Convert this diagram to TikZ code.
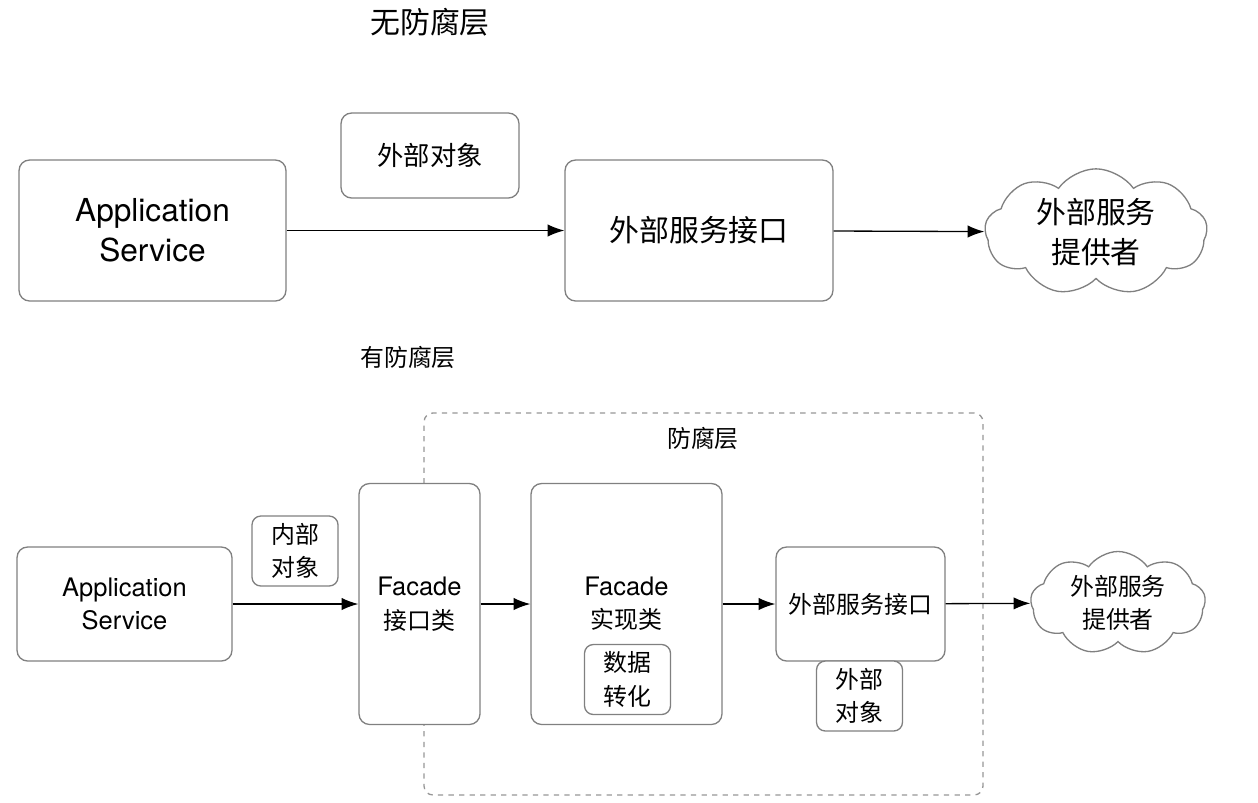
\documentclass[tikz,border=0pt]{standalone}
\usepackage{fontspec}
\setmainfont{TeX Gyre Heros}
\newfontfamily\cjk{Noto Sans CJK SC}
\usetikzlibrary{arrows.meta,shapes.symbols}
\definecolor{boxgray}{RGB}{128,128,128}
\definecolor{dashgray}{RGB}{150,150,150}

\tikzset{
  box/.style={draw=boxgray, line width=0.75pt, rounded corners=6pt, fill=white, align=center, inner sep=0pt},
  smallbox/.style={box, rounded corners=5pt, minimum width=1.72cm, minimum height=1.40cm},
  bulle/.style={cloud, cloud puffs=9, cloud puff arc=110, aspect=2.1, draw=boxgray, line width=0.75pt, fill=white, align=center, inner sep=0pt},
  link/.style={line width=0.75pt, -{Latex[length=9.5pt,width=7pt]}},
  bigtxt/.style={font=\fontsize{18}{23}\selectfont},
  bigcjk/.style={font=\cjk\fontsize{17}{23}\selectfont},
  midtxt/.style={font=\fontsize{14.5}{19}\selectfont},
  midcjk/.style={font=\cjk\fontsize{13.6}{19}\selectfont}
}

\begin{document}
\begin{tikzpicture}[x=0.02cm, y=-0.02cm]
  \useasboundingbox (0,0) rectangle (1258,802);

  % without anti-corruption layer
  \node[bigcjk] (titleA) at (430,22) {无防腐层};
  \node[box, bigtxt, minimum width=5.34cm, minimum height=2.82cm] (appA) at (152.5,230.5) {Application\\Service};
  \node[box, font=\cjk\fontsize{15}{20}\selectfont, minimum width=3.56cm, minimum height=1.70cm] (objA) at (430,155.5) {外部对象};
  \node[box, bigcjk, minimum width=5.36cm, minimum height=2.82cm] (ifaceA) at (699,230.5) {外部服务接口};
  \node[bulle, bigcjk, minimum width=4.45cm, minimum height=2.26cm] (cloudA) at (1096,232) {外部服务\\提供者};
  \draw[link] (appA) -- (ifaceA);
  \draw[link] (ifaceA) -- (cloudA);

  % with anti-corruption layer
  \node[midcjk] (titleB) at (408,357) {有防腐层};
  \node[draw=dashgray, line width=0.75pt, dashed, rounded corners=5pt, minimum width=11.18cm, minimum height=7.64cm] (acl) at (703.5,604) {};
  \node[midcjk] (aclLabel) at (703,438) {防腐层};

  \node[box, midtxt, minimum width=4.30cm, minimum height=2.28cm] (appB) at (124.5,604) {Application\\Service};
  \node[smallbox, midcjk] (innerObj) at (295,551) {内部\\对象};
  \node[box, midtxt, minimum width=2.42cm, minimum height=4.82cm] (facadeI) at (419.5,604) {Facade\\{\cjk\fontsize{13.6}{19}\selectfont 接口类}};
  \node[box, midtxt, minimum width=3.82cm, minimum height=4.82cm] (facadeImpl) at (626.5,604) {Facade\\{\cjk\fontsize{13.6}{19}\selectfont 实现类}};
  \node[smallbox, midcjk] (convert) at (627.5,679.5) {数据\\转化};
  \node[box, midcjk, minimum width=3.38cm, minimum height=2.28cm] (ifaceB) at (860.5,604) {外部服务接口};
  \node[smallbox, midcjk] (extObj) at (859.5,696) {外部\\对象};
  \node[bulle, midcjk, minimum width=3.5cm, minimum height=1.86cm] (cloudB) at (1118,603) {外部服务\\提供者};

  \draw[link] (appB) -- (facadeI);
  \draw[link] (facadeI) -- (facadeImpl);
  \draw[link] (facadeImpl) -- (ifaceB);
  \draw[link] (ifaceB) -- (cloudB);
\end{tikzpicture}
\end{document}
